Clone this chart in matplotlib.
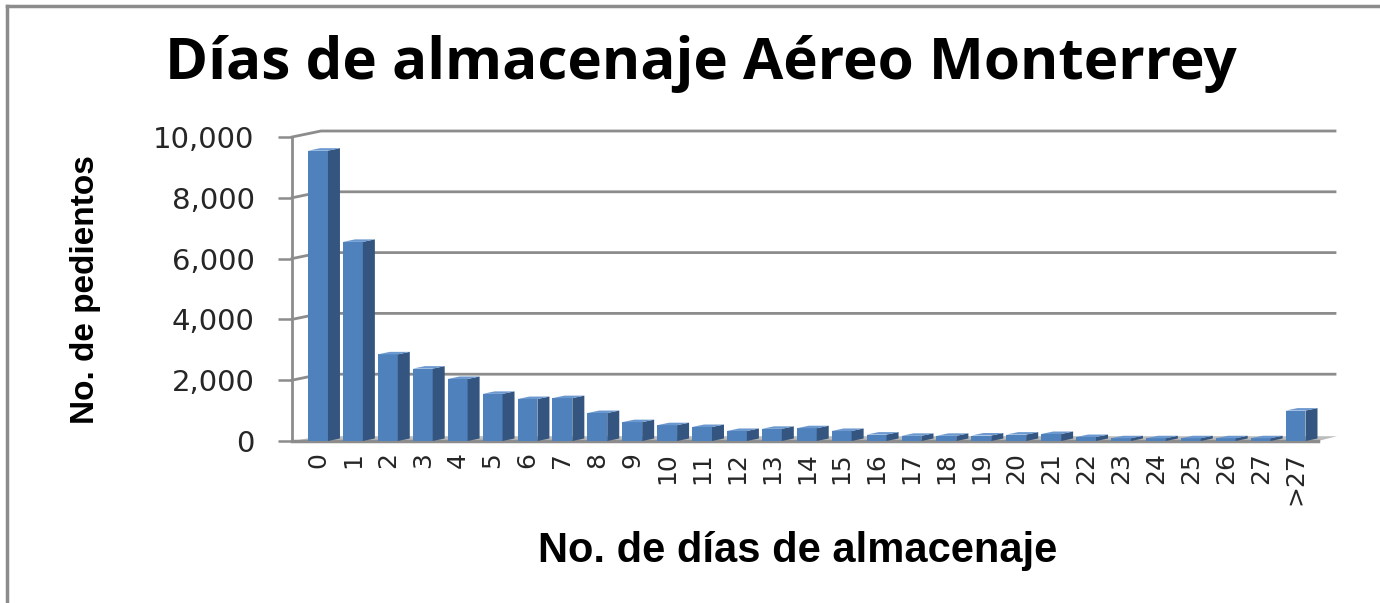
import numpy as np
import matplotlib
matplotlib.use('Agg')
import matplotlib.pyplot as plt
from matplotlib.patches import Polygon
from matplotlib.lines import Line2D

# Datos
dias = [str(i) for i in range(28)] + ['>27']
pendientes = [9550, 6550, 2850, 2380, 2040, 1550, 1380, 1410, 920, 620,
              520, 460, 330, 400, 420, 330, 210, 170, 170, 180,
              210, 230, 130, 90, 90, 90, 90, 90, 1000]
y_ticks = [0, 2000, 4000, 6000, 8000, 10000]

W, H, DPI = 1380, 603, 100
fig = plt.figure(figsize=(W / DPI, H / DPI), dpi=DPI)

# axes placed in pixels (front plane of the 3D box)
ax_l, ax_r, ax_b, ax_t = 292, 1313, 441, 137
ax = fig.add_axes([ax_l / W, 1 - ax_b / H, (ax_r - ax_l) / W, (ax_b - ax_t) / H])
x = np.arange(len(dias))
xmin, xmax = -0.745, 28.5
ax.set_xlim(xmin, xmax)
ax.set_ylim(0, 10000)

# pixel -> data conversion for the fake depth
px_x = (xmax - xmin) / (ax_r - ax_l)
px_y = 10000 / (ax_b - ax_t)

grid_c = '#8c8c8c'
back_dx, back_dy = 29 * px_x, 6 * px_y
back_right = xmax + 22 * px_x

# back wall gridlines and left wall diagonals
for v in y_ticks[1:]:
    ax.plot([xmin, xmin + back_dx, back_right], [v, v + back_dy, v + back_dy],
            color=grid_c, lw=2, clip_on=False, zorder=1)

# floor
floor = Polygon([[xmin, 0], [xmax + 5 * px_x, 0], [back_right + 2 * px_x, back_dy * 0.8],
                 [xmin + back_dx, back_dy * 0.8]],
                closed=True, facecolor='#bdbdbd', edgecolor='none', clip_on=False, zorder=1)
ax.add_patch(floor)
ax.plot([xmin, xmax + 5 * px_x], [0, 0], color='#8c8c8c', lw=2.5, clip_on=False, zorder=1.5)

# 3D-looking bars
bw = 0.57
dep_x, dep_y = 12 * px_x, 2.5 * px_y
front_c, side_c, top_c = '#4f81bd', '#34557f', '#6b98cf'
ax.bar(x, pendientes, width=bw, color=front_c, zorder=3)
for xi, v in zip(x, pendientes):
    xl, xr = xi - bw / 2, xi + bw / 2
    side = Polygon([[xr, 0], [xr, v], [xr + dep_x, v + dep_y], [xr + dep_x, dep_y]],
                   closed=True, facecolor=side_c, edgecolor='none', zorder=3, clip_on=False)
    top = Polygon([[xl, v], [xr, v], [xr + dep_x, v + dep_y], [xl + dep_x, v + dep_y]],
                  closed=True, facecolor=top_c, edgecolor='none', zorder=3, clip_on=False)
    ax.add_patch(side)
    ax.add_patch(top)

# axes styling
for s in ['top', 'right', 'bottom']:
    ax.spines[s].set_visible(False)
ax.spines['left'].set_color(grid_c)
ax.spines['left'].set_linewidth(2)
ax.set_yticks(y_ticks)
ax.set_yticklabels([f'{v:,}' for v in y_ticks])
ax.tick_params(axis='y', length=10, width=1.8, color=grid_c, pad=17,
               labelsize=21, labelcolor='#262626')
ax.set_xticks(x)
ax.set_xticklabels(dias, rotation=90, va='top', ha='center')
ax.tick_params(axis='x', length=0, pad=8, labelsize=18, labelcolor='#262626')
for lab in ax.get_yticklabels() + ax.get_xticklabels():
    lab.set_family('DejaVu Sans')

# textos
fig.text(701 / W, 1 - 64 / H, 'Días de almacenaje Aéreo Monterrey',
         ha='center', va='center', fontsize=42, fontweight='bold', family='Open Sans')
fig.text(86 / W, 1 - 290 / H, 'No. de pedientos', rotation=90, ha='center', va='center',
         fontsize=24, fontweight='bold', family='Liberation Sans')
fig.text(798 / W, 1 - 551 / H, 'No. de días de almacenaje', ha='center', va='center',
         fontsize=30, fontweight='bold', family='Liberation Sans')

# marco gris
fig.add_artist(Line2D([7 / W, 7 / W], [0, 1 - 6 / H], color='#8c8c8c', lw=2.5))
fig.add_artist(Line2D([7 / W, 1], [1 - 6 / H, 1 - 6 / H], color='#8c8c8c', lw=2.5))

fig.savefig('out.png', dpi=DPI)
